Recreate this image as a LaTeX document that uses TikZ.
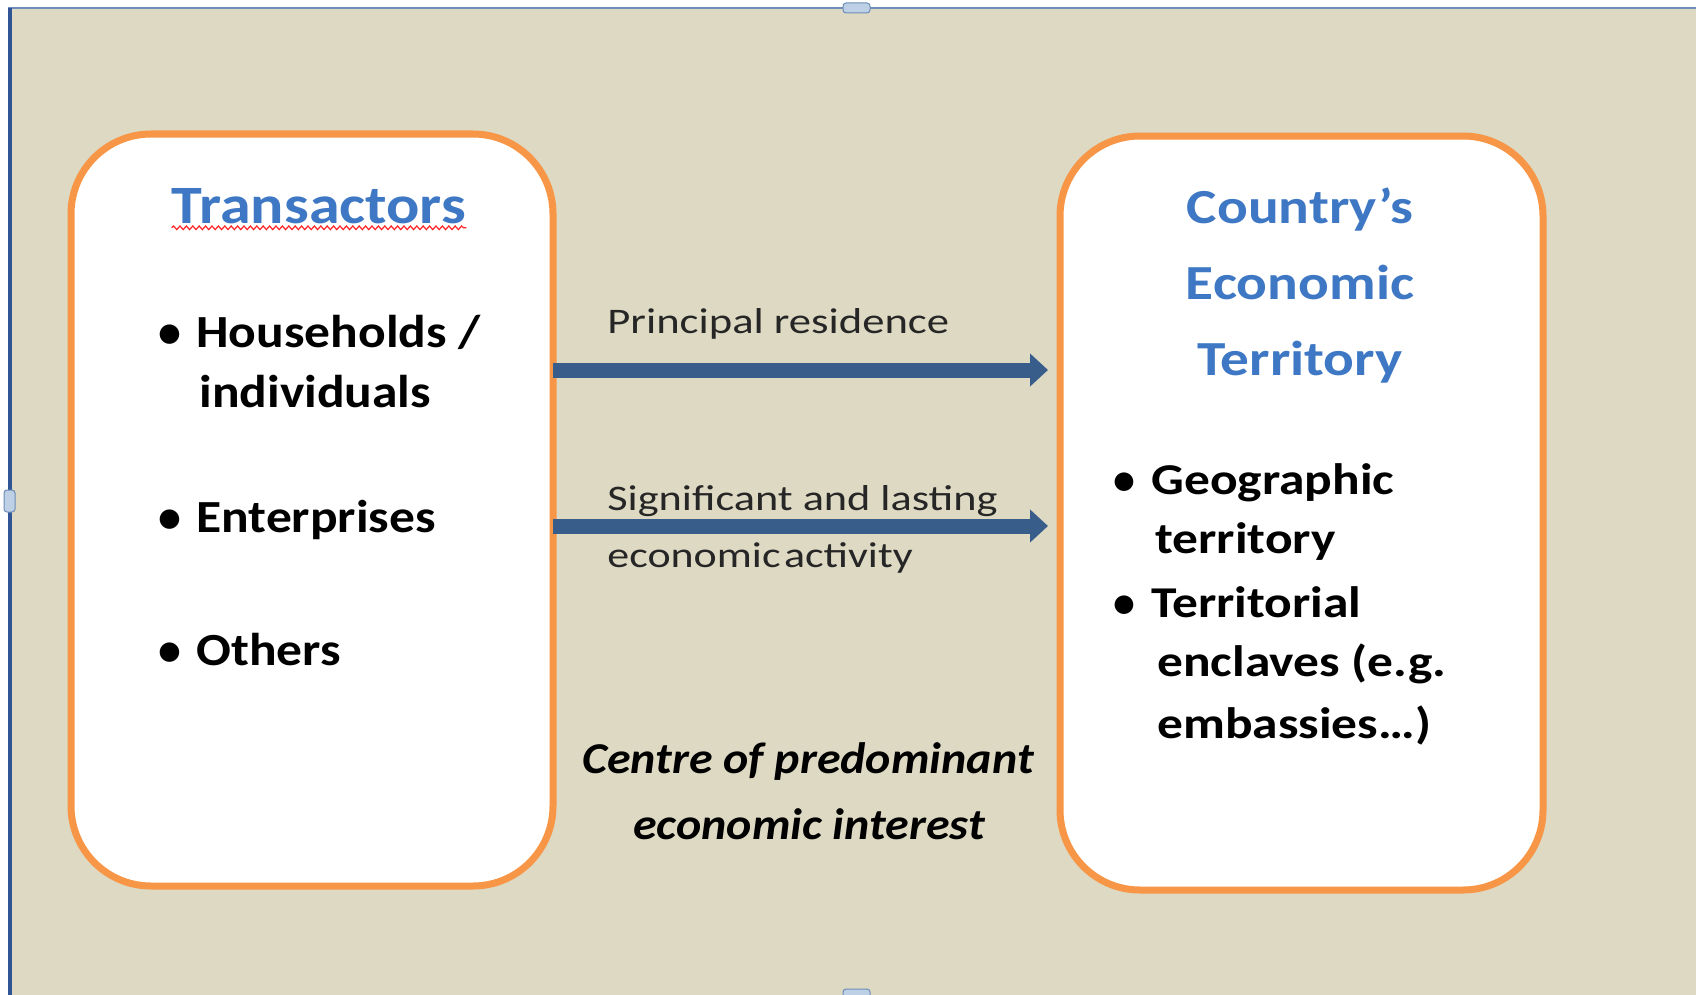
\documentclass[tikz,border=0pt]{standalone}
\usepackage{fontspec}
\usepackage{graphicx}
\setmainfont{Carlito}
\usetikzlibrary{arrows.meta,decorations.pathmorphing}
\definecolor{bgtan}{RGB}{221,217,195}
\definecolor{boxorange}{RGB}{247,150,70}
\definecolor{arrowblue}{RGB}{56,93,138}
\definecolor{titleblue}{RGB}{62,120,196}
\definecolor{framelineblue}{RGB}{47,85,151}
\definecolor{frametop}{RGB}{110,141,184}
\definecolor{handlefill}{RGB}{190,208,230}
\newcommand{\xstretch}[2]{\scalebox{#1}[1]{#2}}
\tikzset{
  roundbox/.style={draw=boxorange, line width=3.5pt, fill=white, rounded corners=40pt,
    rectangle, inner sep=0pt, outer sep=0pt},
  fatarrow/.style={draw=arrowblue, line width=7.5pt, -{Triangle[width=16pt,length=9pt]}},
  titletext/.style={font=\fontsize{27}{32}\selectfont\bfseries, text=titleblue, inner sep=0pt, anchor=base},
  ctitletext/.style={font=\fontsize{24.5}{29}\selectfont\bfseries, text=titleblue, inner sep=0pt, anchor=base},
  itemtext/.style={font=\fontsize{23}{27}\selectfont\bfseries, inner sep=0pt, anchor=base west},
  ritemtext/.style={font=\fontsize{22}{26}\selectfont\bfseries, inner sep=0pt, anchor=base west},
  labeltext/.style={font=\fontsize{18}{22}\selectfont, text=black!85, inner sep=0pt, anchor=base west},
  centretext/.style={font=\fontsize{22}{26}\selectfont\bfseries\itshape, inner sep=0pt, anchor=base},
  handle/.style={fill=handlefill, draw=frametop, line width=0.5pt, rounded corners=1.5pt}
}
\begin{document}
\begin{tikzpicture}[x=0.5pt,y=-0.5pt]
\useasboundingbox (0,0) rectangle (1696,995);
% background frame
\fill[white] (0,0) rectangle (1696,995);
\fill[bgtan] (8,8) rectangle (1696,995);
\draw[frametop, line width=1pt] (8,8) -- (1696,8);
\draw[framelineblue, line width=2pt] (10,8) -- (10,995);
% selection handles
\draw[handle] (843,3) rectangle (870,13);
\draw[handle] (4,490) rectangle (15,512);
\draw[handle] (843,989) rectangle (870,999);
% boxes
\node[roundbox, minimum width=241pt, minimum height=376pt] (L) at (312,510) {};
\node[roundbox, minimum width=241.5pt, minimum height=377pt] (R) at (1301.5,513) {};
% arrows
\coordinate (ya) at (0,370);
\coordinate (yb) at (0,526);
\draw[fatarrow, shorten >=6pt] (L.east |- ya) -- (R.west |- ya);
\draw[fatarrow, shorten >=6pt] (L.east |- yb) -- (R.west |- yb);
% left box texts
\node[titletext] (tt) at (319,223) {\xstretch{1.15}{Transactors}};
\draw[red!85!white, line width=0.6pt, decorate, decoration={snake, amplitude=0.9pt, segment length=3.2pt}] (tt.south west) ++(0,4) -- ([yshift=-2pt]tt.south east |- tt.south west);
\node[itemtext] (b1) at (158,347) {•};
\node[itemtext] (i1) at (196,347) {\xstretch{1.12}{Households /}};
\node[itemtext] (i1b) at (199,407) {\xstretch{1.12}{individuals}};
\node[itemtext] (b2) at (158,532) {•};
\node[itemtext] (i2) at (196,532) {\xstretch{1.12}{Enterprises}};
\node[itemtext] (b3) at (158,665) {•};
\node[itemtext] (i3) at (196,665) {\xstretch{1.12}{Others}};
% right box texts
\node[ctitletext] (c1) at (1300,223) {\xstretch{1.17}{Country’s}};
\node[ctitletext] (c2) at (1300,299) {\xstretch{1.17}{Economic}};
\node[ctitletext] (c3) at (1300,375) {\xstretch{1.17}{Territory}};
\node[ritemtext] (rb1) at (1113,494) {•};
\node[ritemtext] (r1) at (1151,494) {\xstretch{1.17}{Geographic}};
\node[ritemtext] (r1b) at (1155,553) {\xstretch{1.17}{territory}};
\node[ritemtext] (rb2) at (1113,617) {•};
\node[ritemtext] (r2) at (1151,617) {\xstretch{1.17}{Territorial}};
\node[ritemtext] (r2b) at (1157,676) {\xstretch{1.17}{enclaves (e.g.}};
\node[ritemtext] (r2c) at (1157,738) {\xstretch{1.17}{embassies…)}};
% arrow labels
\node[labeltext] (l1) at (607,333) {\xstretch{1.24}{Principal residence}};
\node[labeltext] (l2) at (607,510) {\xstretch{1.23}{Significant and lasting}};
\node[labeltext] (l3) at (607,567) {\xstretch{1.22}{economic\hspace{0.08em}activity}};
% centre text
\node[centretext] (m1) at (808,773) {\xstretch{1.09}{Centre of predominant}};
\node[centretext] (m2) at (809,839) {\xstretch{1.09}{economic interest}};
\end{tikzpicture}
\end{document}
